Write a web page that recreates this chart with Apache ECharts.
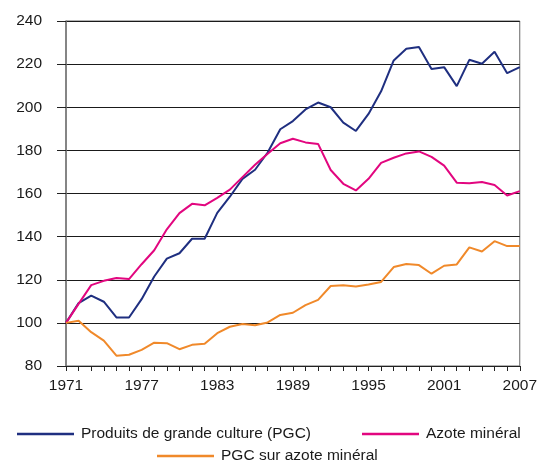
<!DOCTYPE html>
<html>
<head>
<meta charset="utf-8">
<script src="https://cdn.jsdelivr.net/npm/echarts@6/dist/echarts.min.js"></script>
<style>
  html, body { margin: 0; padding: 0; background: #fff; }
  #chart { width: 540px; height: 461px; }
</style>
</head>
<body>
<div id="chart"></div>
<script>
// années 1971-2007
var years = [];
for (var y = 1971; y <= 2007; y++) { years.push(String(y)); }

var pgc = [100, 109.2, 112.6, 109.8, 102.5, 102.5, 111, 121.5, 129.8, 132.3, 139, 139, 151, 158.5,
  166.8, 171, 179, 189.8, 193.6, 199, 202.2, 200, 192.9, 189, 196.9, 207.4,
  221.7, 227.1, 227.9, 217.7, 218.6, 209.8, 222, 220.2, 225.7, 215.8, 218.6];

var azote = [100, 108.8, 117.5, 119.5, 120.8, 120.3, 127.2, 133.7, 143.4, 150.9, 155.2, 154.5, 158, 161.8,
  167.6, 173.3, 178.4, 183.3, 185.4, 183.7, 183, 170.9, 164.5, 161.4, 166.8, 174.2,
  176.6, 178.6, 179.5, 177, 172.9, 165, 164.7, 165.3, 163.9, 159.1, 161.1];

var ratio = [100, 101, 95.7, 91.8, 84.8, 85.2, 87.5, 90.8, 90.6, 87.8, 89.8, 90.3, 95.2, 98.2,
  99.5, 98.9, 100.2, 103.7, 104.7, 108.2, 110.7, 117.1, 117.4, 116.9, 117.8, 119,
  125.9, 127.3, 126.8, 122.8, 126.5, 127.1, 135, 133.1, 137.9, 135.6, 135.6];

var serieNames = ["Produits de grande culture (PGC)", "Azote minéral", "PGC sur azote minéral"];
var colors = ["#1f2f80", "#e2067f", "#f0892a"];

var chart = echarts.init(document.getElementById("chart"));

function legendItem(name, left, top) {
  return {
    data: [name],
    left: left,
    top: top,
    icon: "rect",
    itemWidth: 57,
    itemHeight: 2.5,
    itemGap: 0,
    selectedMode: false,
    textStyle: { fontFamily: "Liberation Sans", fontSize: 15.5, color: "#1a1a1a", padding: [0, 0, 0, 2] }
  };
}

var option = {
  animation: false,
  color: colors,
  textStyle: { fontFamily: "Liberation Sans" },
  grid: {
    left: 66, right: 18, top: 21, bottom: 95,
    show: true, borderColor: "#666", borderWidth: 1
  },
  legend: [
    legendItem(serieNames[0], 12, 421),
    legendItem(serieNames[1], 357, 421),
    legendItem(serieNames[2], 152, 443)
  ],
  xAxis: {
    type: "category",
    data: years,
    boundaryGap: false,
    axisLine: { lineStyle: { color: "#222", width: 1 } },
    axisTick: { show: true, interval: 0, length: 5, lineStyle: { color: "#222" } },
    axisLabel: {
      interval: 5, color: "#1a1a1a", fontSize: 15.5, margin: 12,
      fontFamily: "Liberation Sans"
    },
    splitLine: { show: false }
  },
  yAxis: {
    type: "value",
    min: 80, max: 240, interval: 20,
    axisLine: { show: true, lineStyle: { color: "#777", width: 1.5 } },
    axisTick: { show: true, length: 9, lineStyle: { color: "#222" } },
    axisLabel: { color: "#1a1a1a", fontSize: 15.5, margin: 24, fontFamily: "Liberation Sans" },
    splitLine: { show: true, lineStyle: { color: "#1a1a1a", width: 1 } }
  },
  series: [
    { name: serieNames[0], type: "line", data: pgc, showSymbol: false, lineStyle: { width: 2 } },
    { name: serieNames[1], type: "line", data: azote, showSymbol: false, lineStyle: { width: 2 } },
    { name: serieNames[2], type: "line", data: ratio, showSymbol: false, lineStyle: { width: 2 } }
  ]
};

chart.setOption(option);
</script>
</body>
</html>
